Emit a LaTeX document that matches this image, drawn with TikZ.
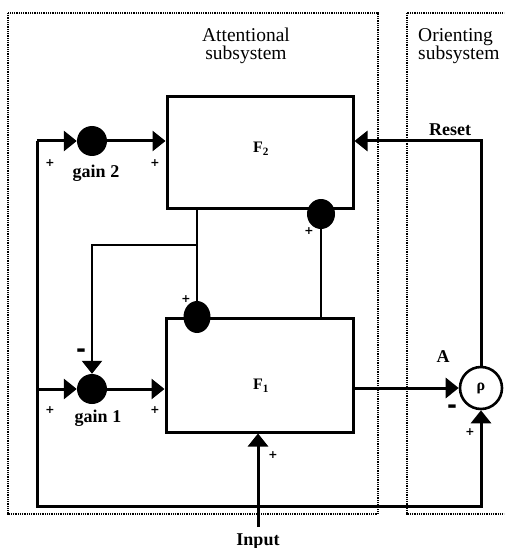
\documentclass[tikz,border=0pt]{standalone}
\usepackage{fontspec}
\setmainfont{Liberation Serif}
\newfontfamily\signfont{DejaVu Sans}
\usetikzlibrary{arrows.meta,shapes.geometric}
\begin{document}
\begin{tikzpicture}[x=1pt,y=-1pt,
  boundary/.style={line width=2pt,dash pattern=on 1pt off 0.8pt},
  blockbox/.style={draw,line width=3pt,inner sep=0pt},
  wire/.style={line width=3pt},
  thinwire/.style={line width=2.4pt},
  arr/.style={line width=3pt,-{Triangle[length=13pt,width=20pt]}},
  tharr/.style={line width=2.4pt,-{Triangle[length=13pt,width=20pt]}},
  gain/.style={circle,fill=black,minimum size=30pt,inner sep=0pt},
  blob/.style={ellipse,fill=black,inner sep=0pt},
  sgn/.style={font=\signfont\bfseries\fontsize{11}{11}\selectfont,inner sep=0pt},
  msgn/.style={font=\signfont\bfseries\fontsize{24}{24}\selectfont,inner sep=0pt},
  lbl/.style={font=\bfseries\fontsize{18}{18}\selectfont,inner sep=0pt},
  ttl/.style={font=\fontsize{19.5}{18.5}\selectfont,inner sep=0pt}
]
\useasboundingbox (0,0) rectangle (504,548);
\begin{scope}
\clip (0,0) rectangle (504,548);
% subsystem boundaries
\draw[boundary] (8,13) rectangle (378,514);
\draw[boundary] (407,13) rectangle (520,514);
\end{scope}
% titles
\node[ttl,align=center,anchor=base] (tatt) at (246,60) {Attentional\\subsystem};
\node[ttl,align=left,anchor=base west] (tori) at (418,60) {Orienting\\subsystem};
% blocks
\node[blockbox,minimum width=186pt,minimum height=111pt] (F2) at (260,152.5) {};
\node[blockbox,minimum width=187pt,minimum height=114pt] (F1) at (259.5,375) {};
\node[lbl,font=\bfseries\fontsize{16}{16}\selectfont] (F2l) at (261,149) {F\textsubscript{2}};
\node[lbl,font=\bfseries\fontsize{16}{16}\selectfont] (F1l) at (261,386) {F\textsubscript{1}};
% gains and comparator
\node[gain] (g2) at (92,141) {};
\node[gain] (g1) at (92,389) {};
\node[circle,draw,fill=white,line width=2.6pt,minimum size=42pt,inner sep=0pt] (rho) at (481,388) {\bfseries\fontsize{16}{16}\selectfont ρ};
% coordinates
\coordinate (L2) at (37,141);
\coordinate (Lb) at (37,506);
\coordinate (inp) at (258,527);
\coordinate (br) at (197,245);
% blobs
\node[blob,minimum width=27pt,minimum height=32pt] (b1) at (197,317) {};
\node[blob,minimum width=28pt,minimum height=30pt] (b2) at (321,214) {};
% connectors
\draw[arr] (L2) -- (Lb) -- (Lb -| rho) -- (rho.south);
\draw[arr] (L2) -- (g2);
\draw[arr] (g2) -- (F2.west |- g2);
\draw[arr] (L2 |- g1) -- (g1);
\draw[arr] (g1) -- (F1.west |- g1);
\draw[arr] (rho.north) -- (rho.north |- g2) -- (F2.east |- g2);
\draw[arr] (F1.east |- rho) -- (rho.west);
\draw[arr] (inp) -- (inp |- F1.south);
\draw[thinwire] (b1 |- F2.south) -- (b1);
\draw[tharr] (br) -| (g1.north);
\draw[thinwire] (b2) -- (b2 |- F1.north);
% labels
\node[lbl,anchor=base] (rst) at (450,136) {Reset};
\node[lbl,anchor=base] (la) at (443,362) {A};
\node[lbl,anchor=base] (lg2) at (96,177) {gain 2};
\node[lbl,anchor=base] (lg1) at (98,422) {gain 1};
\node[lbl,anchor=base] (lin) at (258,545) {Input};
% signs
\node[sgn] (s1) at (50,163) {+};
\node[sgn] (s2) at (155,163) {+};
\node[sgn] (s3) at (50,410) {+};
\node[sgn] (s4) at (155,410) {+};
\node[sgn] (s5) at (186,299) {+};
\node[sgn] (s6) at (309,231) {+};
\node[sgn] (s7) at (273,455) {+};
\node[sgn] (s8) at (470,432) {+};
\node[msgn] (m1) at (81,353) {-};
\node[msgn] (m2) at (452,409) {-};
\end{tikzpicture}
\end{document}
